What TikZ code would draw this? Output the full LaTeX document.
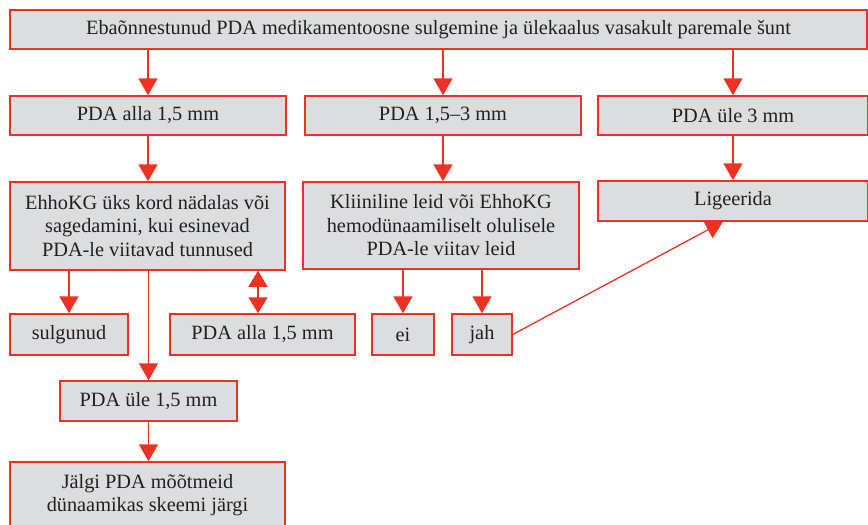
\documentclass[tikz,border=0pt]{standalone}
\usepackage{fontspec}
\setmainfont{Liberation Serif}
\usetikzlibrary{arrows.meta}
\definecolor{rd}{RGB}{237,50,36}
\definecolor{bx}{RGB}{220,221,223}
\definecolor{tx}{RGB}{35,31,32}
\begin{document}
\begin{tikzpicture}[x=1pt,y=-1pt,
  box/.style={draw=rd,line width=1.5pt,fill=bx,inner sep=0pt,align=center,text=tx,
    font=\fontsize{20.3}{23.5}\selectfont},
  arr/.style={draw=rd,line width=1.8pt,-{Triangle[width=19pt,length=17pt]}},
  darr/.style={draw=rd,line width=1.8pt,{Triangle[width=19pt,length=16pt]}-{Triangle[width=19pt,length=16pt]}}]
\useasboundingbox (0,0) rectangle (868,525);
\node[box,minimum width=857pt,minimum height=39pt] (top) at (438.5,29.5) {Ebaõnnestunud PDA medikamentoosne sulgemine ja ülekaalus vasakult paremale šunt};
\node[box,minimum width=276pt,minimum height=39pt] (A) at (148,115.5) {PDA alla 1,5 mm};
\node[box,minimum width=276pt,minimum height=39pt] (B) at (443,115.5) {PDA 1,5–3 mm};
\node[box,minimum width=270pt,minimum height=39pt] (C) at (733,115.5) {PDA üle 3 mm};
\node[box,minimum width=275pt,minimum height=88pt] (E) at (147.5,226) {EhhoKG üks kord nädalas või\\sagedamini, kui esinevad\\PDA-le viitavad tunnused};
\node[box,minimum width=276pt,minimum height=87pt] (M) at (441,225.5) {Kliiniline leid või EhhoKG\\hemodünaamiliselt olulisele\\PDA-le viitav leid};
\node[box,minimum width=270pt,minimum height=40pt] (L) at (733,201) {Ligeerida};
\node[box,minimum width=118pt,minimum height=41pt] (S) at (69,334.5) {sulgunud};
\node[box,minimum width=185pt,minimum height=41pt] (P) at (262.5,334.5) {PDA alla 1,5 mm};
\node[box,minimum width=62pt,minimum height=41pt] (N) at (403,334.5) {ei};
\node[box,minimum width=60pt,minimum height=41pt] (J) at (482,334.5) {jah};
\node[box,minimum width=177pt,minimum height=40pt] (U) at (148.5,401) {PDA üle 1,5 mm};
\node[box,minimum width=275pt,minimum height=66pt] (G) at (147.5,495) {Jälgi PDA mõõtmeid\\dünaamikas skeemi järgi};
\coordinate (Pt) at ([xshift=-4.5pt]P.north);
\coordinate (Lb) at ([xshift=-10pt]L.south);
\draw[arr] (top.south -| A.north) -- (A.north);
\draw[arr] (top.south -| B.north) -- (B.north);
\draw[arr] (top.south -| C.north) -- (C.north);
\draw[arr] (A.south) -- (A.south |- E.north);
\draw[arr] (B.south) -- (B.south |- M.north);
\draw[arr] (C.south) -- (C.south |- L.north);
\draw[arr] (E.south -| S.north) -- (S.north);
\draw[darr] (E.south -| Pt) -- (Pt);
\draw[arr] (E.south -| U.north) -- (U.north);
\draw[arr] (U.south) -- (U.south |- G.north);
\draw[arr] (M.south -| N.north) -- (N.north);
\draw[arr] (M.south -| J.north) -- (J.north);
\draw[arr,line width=1.3pt] (J.east) -- (Lb);
\end{tikzpicture}
\end{document}
